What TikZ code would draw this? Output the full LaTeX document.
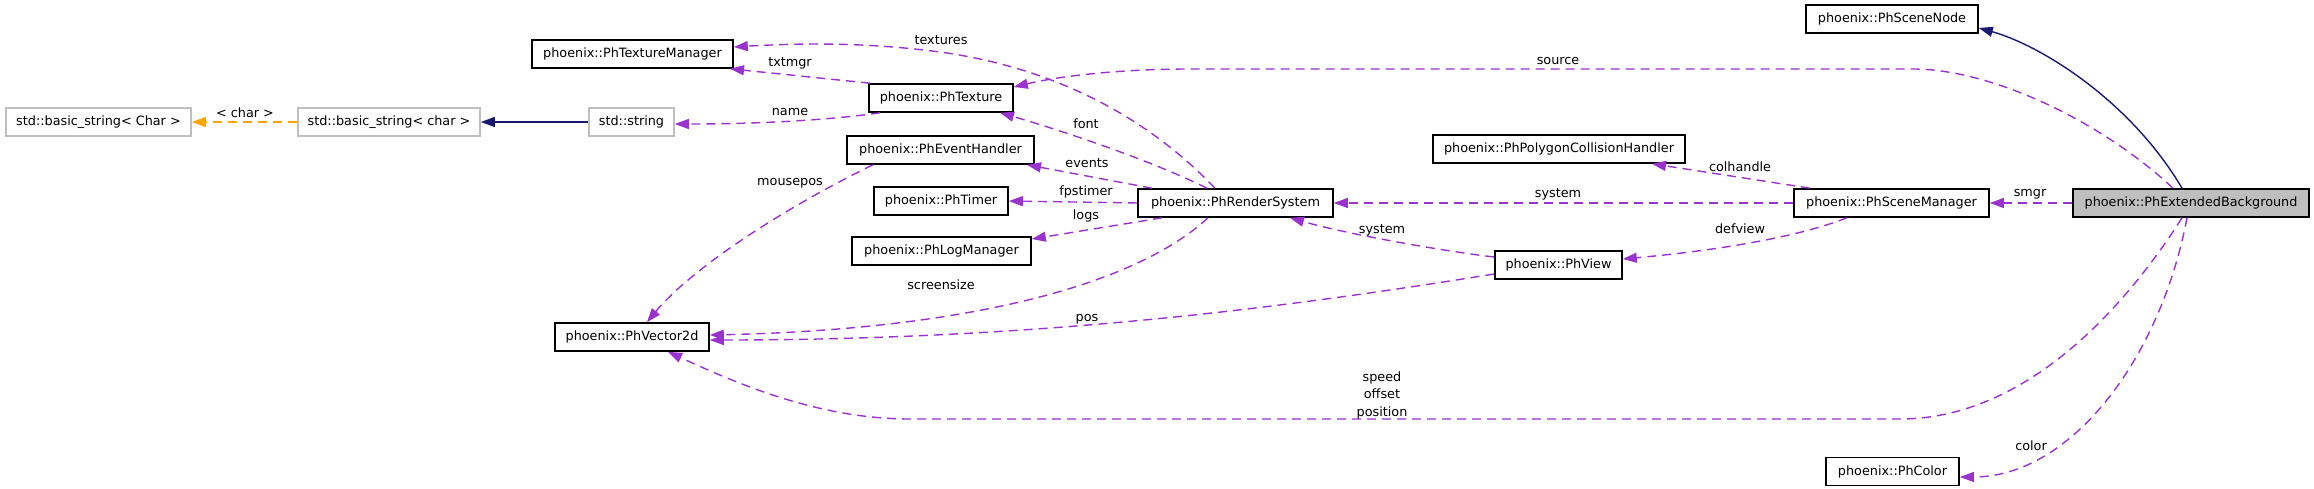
\documentclass[tikz,border=0pt]{standalone}
\usepackage{fontspec}
\setmainfont{DejaVu Sans}
\usetikzlibrary{arrows.meta}
\definecolor{dep}{HTML}{9A32CD}
\definecolor{navy}{HTML}{191970}
\definecolor{tmplc}{HTML}{FFA500}
\definecolor{extgray}{HTML}{BFBFBF}
\definecolor{boxfill}{HTML}{BFBFBF}
\tikzset{
  cls/.style={draw=black, line width=1.6pt, fill=white, minimum height=28pt, inner sep=0pt,
    font=\fontsize{12.8}{15}\selectfont},
  extcls/.style={cls, draw=extgray},
  mainbox/.style={cls, fill=boxfill},
  lbl/.style={inner sep=0pt, font=\fontsize{12.8}{17.5}\selectfont, align=center},
  depline/.style={draw=dep, line width=1.4pt, dash pattern=on 9pt off 6pt,
    -{Triangle[length=14pt,width=10pt,fill=dep]}},
  inhline/.style={draw=navy, line width=1.4pt, -{Triangle[length=14pt,width=10pt,fill=navy]}},
  tmplline/.style={draw=tmplc, line width=1.4pt, dash pattern=on 9pt off 6pt,
    -{Triangle[length=14pt,width=10pt,fill=tmplc]}}
}
\begin{document}
\begin{tikzpicture}[x=1pt,y=-1pt]
\useasboundingbox (0,0) rectangle (2314,489);

% nodes
\node[cls, minimum width=172pt] (sn) at (1892,19) {phoenix::PhSceneNode};
\node[cls, minimum width=201pt] (tm) at (632.5,54) {phoenix::PhTextureManager};
\node[cls, minimum width=144pt] (tx) at (941,98) {phoenix::PhTexture};
\node[extcls, minimum width=185pt] (bsC) at (98.5,122) {std::basic\_string\textless{} Char \textgreater{}};
\node[extcls, minimum width=182pt] (bsc) at (389,122) {std::basic\_string\textless{} char \textgreater{}};
\node[extcls, minimum width=85pt] (ss) at (631.5,122) {std::string};
\node[cls, minimum width=187pt] (eh) at (940.5,150) {phoenix::PhEventHandler};
\node[cls, minimum width=252pt] (pc) at (1559,149) {phoenix::PhPolygonCollisionHandler};
\node[cls, minimum width=134pt] (ti) at (941,201) {phoenix::PhTimer};
\node[cls, minimum width=195pt] (rs) at (1235.5,203) {phoenix::PhRenderSystem};
\node[cls, minimum width=195pt] (sm) at (1891.5,203) {phoenix::PhSceneManager};
\node[mainbox, minimum width=236pt] (eb) at (2191,203) {phoenix::PhExtendedBackground};
\node[cls, minimum width=179pt] (lm) at (941.5,251) {phoenix::PhLogManager};
\node[cls, minimum width=127pt] (vw) at (1558.5,265) {phoenix::PhView};
\node[cls, minimum width=154pt] (v2) at (632,337) {phoenix::PhVector2d};
\node[cls, minimum width=133pt] (co) at (1892.5,471.5) {phoenix::PhColor};

% inheritance
\draw[inhline] ([xshift=-9pt]eb.north) .. controls (2130,100) and (2040,45) .. ([yshift=-9pt]sn.east);
\draw[inhline] (ss.west) -- (bsc.east);
\draw[tmplline] (bsc.west) -- (bsC.east);

% usage from PhExtendedBackground
\draw[depline] ([xshift=-18pt]eb.north) .. controls (2100,120) and (1990,69) .. (1913,69)
  -- (1190,69) .. controls (1120,69) and (1060,76) .. ([yshift=11pt]tx.east);
\draw[depline] (eb.west) -- (sm.east);
\draw[depline] ([xshift=-9pt]eb.south) .. controls (2130,300) and (2030,419) .. (1900,419)
  -- (910,419) .. controls (820,419) and (740,385) .. ([xshift=36pt]v2.south);
\draw[depline] ([xshift=-4pt]eb.south) .. controls (2160,360) and (2070,477) .. ([yshift=-5.5pt]co.east);

% PhSceneManager
\draw[depline] (sm.west) -- (rs.east);
\draw[depline] ([xshift=-81.5pt]sm.north) -- ([xshift=93pt]pc.south);
\draw[depline] ([xshift=-44.5pt]sm.south) .. controls (1790,240) and (1700,252) .. ([yshift=6pt]vw.east);

% PhView
\draw[depline] ([yshift=8pt]vw.west) .. controls (1450,252) and (1350,235) .. ([xshift=54.5pt]rs.south);
\draw[depline] ([yshift=-9pt]vw.west) .. controls (1300,305) and (1050,340) .. ([yshift=-3pt]v2.east);

% PhRenderSystem
\draw[depline] ([xshift=-20.5pt]rs.north) .. controls (1150,120) and (1060,70) .. (947,53)
  .. controls (870,42) and (800,43) .. ([yshift=7pt]tm.east);
\draw[depline] ([xshift=-28.5pt]rs.north) .. controls (1150,160) and (1060,130) .. ([xshift=59pt]tx.south);
\draw[depline] ([xshift=-83.5pt]rs.north) -- ([xshift=86.5pt]eh.south);
\draw[depline] (rs.west) -- (ti.east);
\draw[depline] ([xshift=-73.5pt]rs.south) -- ([yshift=12pt]lm.east);
\draw[depline] ([xshift=-27.5pt]rs.south) .. controls (1130,290) and (950,330) .. ([yshift=2pt]v2.east);

% PhTexture
\draw[depline] ([xshift=-71pt]tx.north) -- ([xshift=97.5pt]tm.south);
\draw[depline] ([xshift=-61pt]tx.south) .. controls (830,120) and (760,124) .. ([yshift=-2pt]ss.east);

% PhEventHandler
\draw[depline] ([xshift=-67.5pt]eh.south) .. controls (780,210) and (690,270) .. ([xshift=15pt]v2.north);

% labels
\node[lbl] (l1) at (245,113) {\textless{} char \textgreater{}};
\node[lbl] (l2) at (941,40) {textures};
\node[lbl] (l3) at (1558,61) {source};
\node[lbl] (l4) at (790,63) {txtmgr};
\node[lbl] (l5) at (790,112) {name};
\node[lbl] (l6) at (1086,124) {font};
\node[lbl] (l7) at (1087,163) {events};
\node[lbl] (l8) at (1740,167) {colhandle};
\node[lbl] (l9) at (790,183) {mousepos};
\node[lbl] (l10) at (1086,192) {fpstimer};
\node[lbl] (l11) at (1558,194) {system};
\node[lbl] (l12) at (2030,194) {smgr};
\node[lbl] (l13) at (1086,216) {logs};
\node[lbl] (l14) at (1740,229) {defview};
\node[lbl] (l15) at (1382,230) {system};
\node[lbl] (l16) at (941,285) {screensize};
\node[lbl] (l17) at (1087,319) {pos};
\node[lbl] (l18) at (1382,395) {speed\\offset\\position};
\node[lbl] (l19) at (2031,446) {color};
\end{tikzpicture}
\end{document}
